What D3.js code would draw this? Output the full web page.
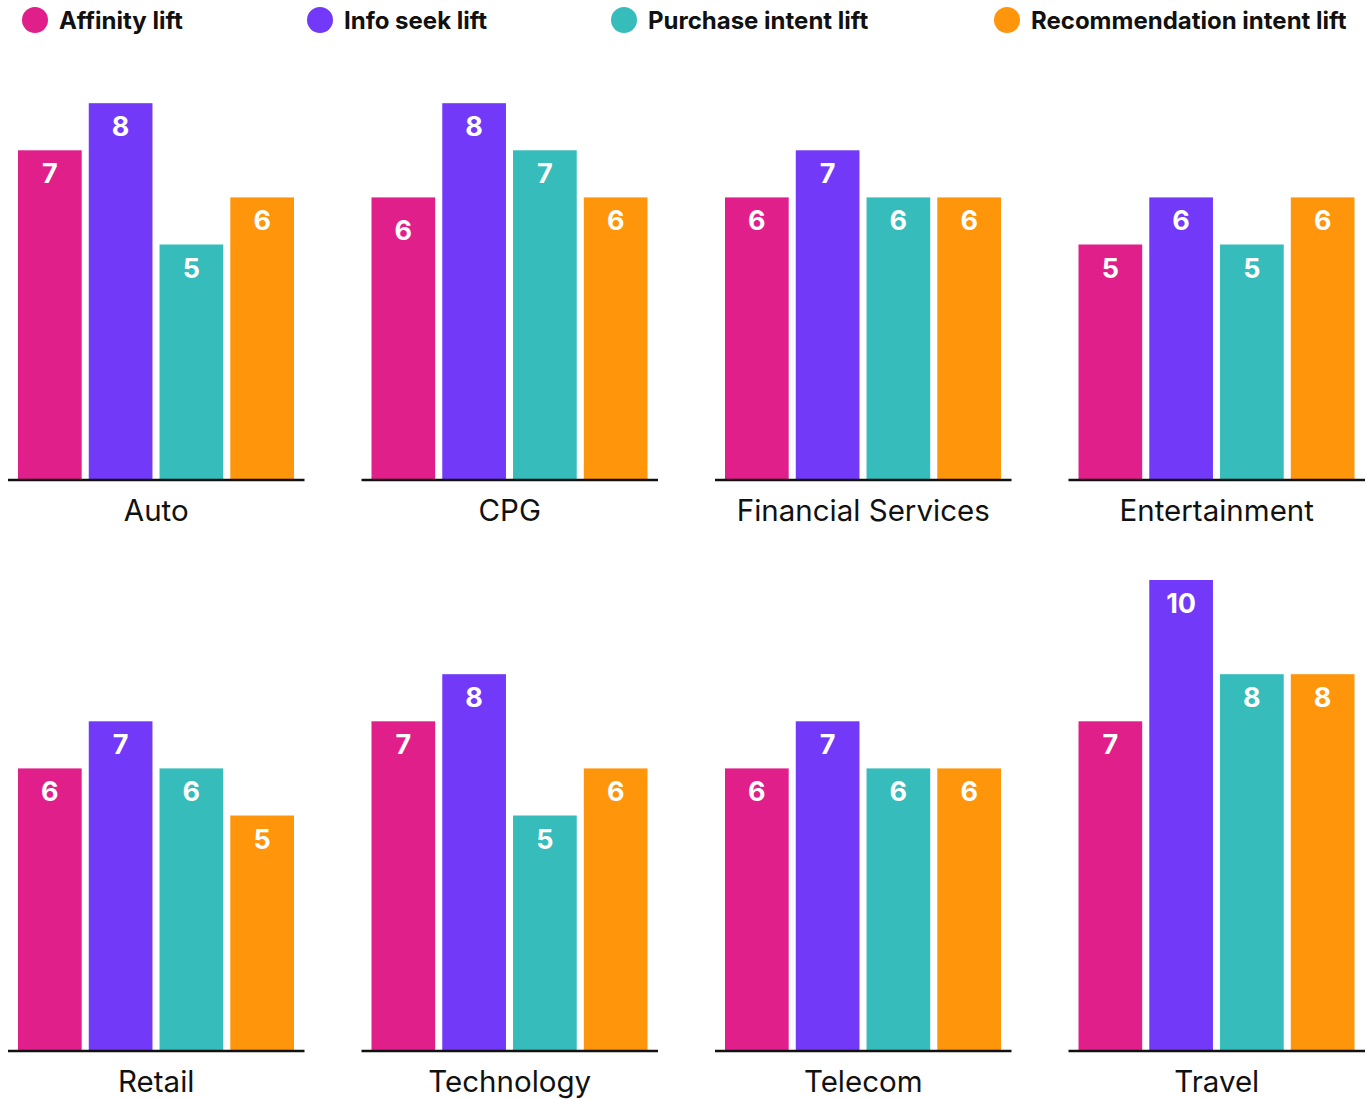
<!DOCTYPE html>
<html lang="en">
<head>
    <meta charset="UTF-8">
    <title>Lift by industry</title>
    <style>
        html,body {
            margin : 0px;
            padding: 0px;
            background: #fff;
        }
        svg { display:block; font-family: Inter, "Noto Sans", sans-serif; }
    </style>
    <script src="https://cdn.jsdelivr.net/npm/d3@7"></script>
</head>
<body>
<svg></svg>
<script>
    // data
    const industries = ['Auto', 'CPG', 'Financial Services', 'Entertainment',
                        'Retail', 'Technology', 'Telecom', 'Travel']
    const metrics = ['Affinity lift', 'Info seek lift', 'Purchase intent lift', 'Recommendation intent lift']
    const affinity   = [7, 6, 6, 5, 6, 7, 6, 7]
    const infoSeek   = [8, 8, 7, 6, 7, 8, 7, 10]
    const purchase   = [5, 7, 6, 5, 6, 5, 6, 8]
    const recommend  = [6, 6, 6, 6, 5, 6, 6, 8]
    const colors = ['#e11f8b', '#7239f9', '#35bcbb', '#ff950b']

    const series = [affinity, infoSeek, purchase, recommend]

    const W = 1366, H = 1099
    const svg = d3.select('svg').attr('width', W).attr('height', H)

    // legend
    const legendX = [35, 320, 624, 1007]
    const leg = svg.append('g').attr('class', 'legend')
        .selectAll('g').data(metrics).enter().append('g')
        .attr('transform', (d, i) => `translate(${legendX[i]},20)`)
    leg.append('circle').attr('r', 13).attr('fill', (d, i) => colors[i])
    leg.append('text')
        .attr('x', 24).attr('y', 8.5)
        .style('font-size', '24px').style('font-weight', 700)
        .attr('fill', '#111')
        .text(d => d)

    // panels
    const panelW = 296.5
    const colX = d3.scalePoint().domain([0, 1, 2, 3]).range([8, 1068.5])
    const rowBase = [480, 1051]
    const y = d3.scaleLinear().domain([0, 10]).range([0, 471])
    const x = d3.scaleBand().domain(d3.range(4)).range([10, 286]).paddingInner(0.1).paddingOuter(0)

    industries.forEach((name, k) => {
        const g = svg.append('g')
            .attr('transform', `translate(${colX(k % 4)},${rowBase[Math.floor(k / 4)]})`)
        const vals = series.map((s, i) => ({i: i, v: s[k]}))

        g.selectAll('rect').data(vals).enter().append('rect')
            .attr('x', d => x(d.i))
            .attr('width', x.bandwidth())
            .attr('y', d => -y(d.v))
            .attr('height', d => y(d.v) + 1)
            .attr('fill', d => colors[d.i])

        // the CPG affinity label sits a bit lower in the original
        g.selectAll('text.val').data(vals).enter().append('text')
            .attr('class', 'val')
            .attr('x', d => x(d.i) + x.bandwidth() / 2)
            .attr('y', d => -y(d.v) + 33 + (k === 1 && d.i === 0 ? 10 : 0))
            .attr('text-anchor', 'middle')
            .style('font-size', '27px').style('font-weight', 700)
            .attr('fill', '#fff')
            .text(d => d.v)

        g.append('line')
            .attr('x1', 0).attr('x2', panelW)
            .attr('y1', 0).attr('y2', 0)
            .attr('stroke', '#111').attr('stroke-width', 2.5)

        g.append('text')
            .attr('x', panelW / 2).attr('y', 41)
            .attr('text-anchor', 'middle')
            .style('font-size', '29.5px')
            .attr('fill', '#111')
            .text(name)
    })
</script>
</body>
</html>
